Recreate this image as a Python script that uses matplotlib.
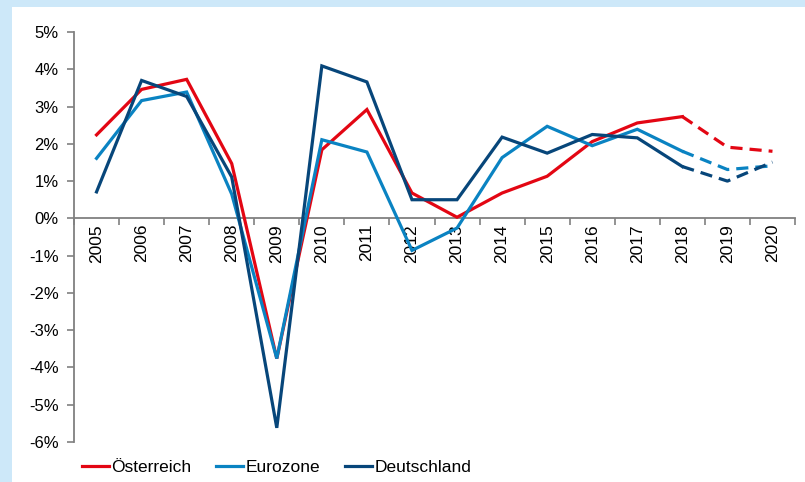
import matplotlib.pyplot as plt
from matplotlib.patches import Rectangle
from matplotlib.ticker import FuncFormatter, FixedLocator

# Daten (Wachstum in %, 2019/2020 Prognose)
jahre = list(range(2005, 2021))
oesterreich = [2.24, 3.46, 3.73, 1.47, -3.76, 1.84, 2.92, 0.68, 0.03, 0.68, 1.13, 2.06, 2.56, 2.73, 1.91, 1.80]
eurozone = [1.61, 3.16, 3.39, 0.65, -3.76, 2.11, 1.78, -0.86, -0.26, 1.63, 2.47, 1.95, 2.39, 1.80, 1.31, 1.41]
deutschland = [0.71, 3.70, 3.27, 1.11, -5.62, 4.09, 3.66, 0.50, 0.50, 2.18, 1.75, 2.25, 2.16, 1.39, 1.00, 1.51]
namen = ['Österreich', 'Eurozone', 'Deutschland']
farben = ['#e30613', '#0a83c2', '#07467a']
letztes_ist = 2018

plt.rcParams['font.family'] = ['Liberation Sans', 'DejaVu Sans']

fig = plt.figure(figsize=(8.05, 4.82), dpi=100)
fig.patch.set_facecolor('#cde8f9')
fig.patches.append(Rectangle((12 / 805, 0), 1 - 12 / 805, 475 / 482,
                             transform=fig.transFigure, facecolor='white',
                             edgecolor='none', zorder=-10))

ax = fig.add_axes([74 / 805, 40 / 482, 721 / 805, 410 / 482])
ax.set_zorder(2)
ax.set_facecolor('none')

idx = jahre.index(letztes_ist)
handles = []
for werte, name, farbe in zip([oesterreich, eurozone, deutschland], namen, farben):
    h, = ax.plot(jahre[:idx + 1], werte[:idx + 1], color=farbe, lw=2.3,
                 label=name, zorder=3, solid_joinstyle='miter')
    ax.plot(jahre[idx:], werte[idx:], color=farbe, lw=2.3, ls=(0, (3.8, 2.2)), zorder=3)
    handles.append(h)

ax.set_xlim(jahre[0] - 0.5, jahre[-1] + 0.5)
ax.set_ylim(-6, 5)
ax.set_yticks(range(-6, 6))
ax.yaxis.set_major_formatter(FuncFormatter(lambda v, p: f'{int(v)}%'))

# Kategorienachse: Striche zwischen den Jahren, Beschriftung mittig
ax.xaxis.set_major_locator(FixedLocator([j - 0.5 for j in jahre] + [jahre[-1] + 0.5]))
ax.xaxis.set_major_formatter(FuncFormatter(lambda v, p: ''))
ax.xaxis.set_minor_locator(FixedLocator(jahre))
ax.xaxis.set_minor_formatter(FuncFormatter(lambda v, p: str(int(round(v)))))
ax.tick_params(axis='x', which='minor', length=0, pad=4, labelrotation=90, labelsize=12.5)
ax.tick_params(axis='x', which='major', length=5, color='#808080', width=1.2)
ax.tick_params(axis='y', length=5, color='#808080', width=1.2, labelsize=12, pad=6)

ax.spines['bottom'].set_position(('data', 0))
for s in ['top', 'right']:
    ax.spines[s].set_visible(False)
for s in ['left', 'bottom']:
    ax.spines[s].set_color('#808080')
    ax.spines[s].set_linewidth(1.3)

fig.legend(handles=handles, labels=namen, loc='center', ncol=3,
           bbox_to_anchor=(0.3435, 0.031), frameon=False, fontsize=12.5,
           handlelength=1.55, handletextpad=0.12, columnspacing=1.47,
           borderpad=0, borderaxespad=0)

fig.savefig('out.png', dpi=100, facecolor=fig.get_facecolor())
